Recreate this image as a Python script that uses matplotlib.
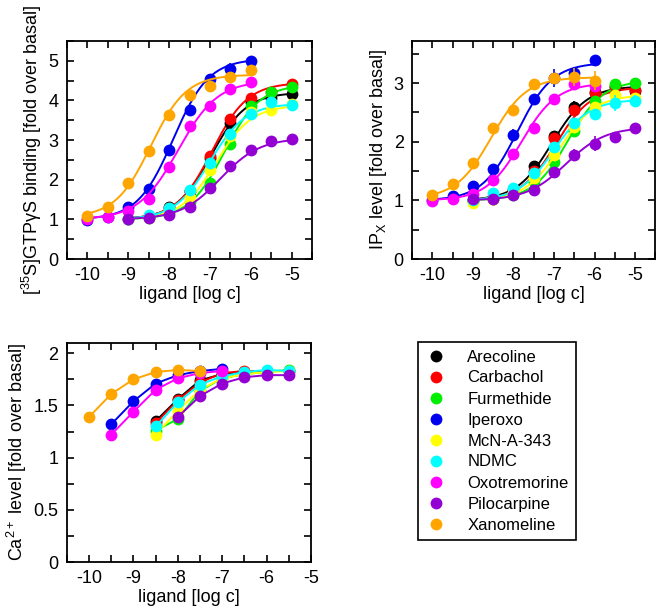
import numpy as np
import matplotlib.pyplot as plt
from matplotlib.ticker import MultipleLocator, FormatStrFormatter

plt.rcParams['font.family'] = ['Liberation Sans', 'DejaVu Sans']
plt.rcParams['axes.unicode_minus'] = False
plt.rcParams['mathtext.default'] = 'regular'

N = np.nan

names = ['Arecoline', 'Carbachol', 'Furmethide', 'Iperoxo', 'McN-A-343',
         'NDMC', 'Oxotremorine', 'Pilocarpine', 'Xanomeline']
colors = ['#000000', '#ff0000', '#00ee00', '#0000ee', '#ffff00',
          '#00ffff', '#ff00ff', '#9400d3', '#ffa500']

log_c = [-10, -9.5, -9, -8.5, -8, -7.5, -7, -6.5, -6, -5.5, -5]

# [35S]GTPgS binding, fold over basal
gtp = {
    'Arecoline':    [N, N, 1.00, 1.05, 1.32, 1.72, 2.55, 3.42, 3.96, 4.05, 4.17],
    'Carbachol':    [N, N, 1.00, 1.05, 1.30, 1.72, 2.60, 3.52, 4.06, 4.22, 4.42],
    'Furmethide':   [N, N, 1.00, 1.03, 1.15, 1.45, 1.91, 2.90, 3.85, 4.21, 4.34],
    'Iperoxo':      [0.99, 1.05, 1.32, 1.76, 2.75, 3.75, 4.55, 4.80, 5.00, N, N],
    'McN-A-343':    [N, N, 1.00, 1.05, 1.22, 1.55, 2.24, 3.10, 3.70, 3.77, 3.90],
    'NDMC':         [N, N, 1.00, 1.12, 1.28, 1.74, 2.43, 3.15, 3.67, 3.96, 3.89],
    'Oxotremorine': [1.00, 1.07, 1.20, 1.51, 2.33, 3.35, 3.86, 4.29, 4.47, N, N],
    'Pilocarpine':  [N, N, 1.00, 1.03, 1.12, 1.31, 1.79, 2.35, 2.75, 2.97, 3.02],
    'Xanomeline':   [1.09, 1.31, 1.93, 2.72, 3.63, 4.14, 4.36, 4.60, 4.77, N, N],
}
gtp_err = {
    'Carbachol':    [0, 0, 0, 0, 0, 0, 0.05, 0.06, 0.08, 0.05, 0.04],
    'Iperoxo':      [0, 0, 0, 0, 0.06, 0.10, 0.06, 0.15, 0.08, 0, 0],
    'Oxotremorine': [0, 0, 0, 0, 0, 0, 0, 0.10, 0.08, 0, 0],
    'Xanomeline':   [0, 0, 0, 0, 0, 0.08, 0, 0.08, 0.04, 0, 0],
}
# fitted curves: bottom, top, logEC50, hill
gtp_bottom = [1.0, 1.0, 1.0, 1.0, 1.0, 1.0, 1.0, 1.0, 1.05]
gtp_top = [4.20, 4.45, 4.40, 5.05, 3.88, 3.92, 4.50, 3.05, 4.65]
gtp_ec50 = [-6.98, -6.95, -6.65, -7.90, -6.85, -7.00, -7.78, -6.75, -8.45]
gtp_hill = [1.0, 1.0, 1.0, 1.0, 1.0, 1.0, 0.9, 0.9, 1.0]

# IPx accumulation, fold over basal
ipx = {
    'Arecoline':    [N, N, 1.00, 1.05, 1.17, 1.58, 2.10, 2.60, 2.85, 2.93, 2.86],
    'Carbachol':    [N, N, 1.00, 1.03, 1.14, 1.50, 2.07, 2.55, 2.83, 2.95, 2.88],
    'Furmethide':   [N, N, 0.99, 1.02, 1.10, 1.32, 1.66, 2.18, 2.70, 2.98, 3.00],
    'Iperoxo':      [1.01, 1.07, 1.24, 1.53, 2.11, 2.73, 3.09, 3.17, 3.39, N, N],
    'McN-A-343':    [N, N, 0.96, 1.02, 1.12, 1.38, 1.78, 2.25, 2.60, 2.80, 2.75],
    'NDMC':         [N, N, 1.00, 1.13, 1.21, 1.47, 1.91, 2.32, 2.47, 2.66, 2.70],
    'Oxotremorine': [0.99, 1.02, 1.11, 1.35, 1.79, 2.24, 2.73, 2.99, 2.95, N, N],
    'Pilocarpine':  [N, N, 1.02, 1.02, 1.09, 1.18, 1.48, 1.78, 1.97, 2.09, 2.23],
    'Xanomeline':   [1.10, 1.28, 1.63, 2.24, 2.55, 2.99, 3.09, 3.11, 3.04, N, N],
}
ipx_err = {
    'Arecoline':    [0, 0, 0, 0, 0, 0.05, 0.07, 0.10, 0.05, 0.04, 0.04],
    'Carbachol':    [0, 0, 0, 0, 0, 0, 0, 0, 0, 0.05, 0.04],
    'Iperoxo':      [0, 0, 0, 0, 0.10, 0.07, 0.15, 0.10, 0.07, 0, 0],
    'NDMC':         [0, 0, 0, 0, 0, 0, 0, 0, 0.05, 0.13, 0.10],
    'Oxotremorine': [0, 0, 0, 0, 0, 0, 0, 0.07, 0.10, 0, 0],
    'Pilocarpine':  [0, 0, 0, 0, 0, 0, 0, 0.10, 0.13, 0.07, 0.03],
    'Xanomeline':   [0, 0, 0, 0, 0, 0.08, 0.08, 0.15, 0.16, 0, 0],
}
ipx_bottom = [1.0, 1.0, 1.0, 1.0, 1.0, 1.0, 1.0, 1.0, 1.03]
ipx_top = [2.95, 2.93, 3.05, 3.35, 2.80, 2.72, 3.00, 2.25, 3.10]
ipx_ec50 = [-7.05, -6.95, -6.65, -7.90, -6.85, -7.00, -7.80, -6.70, -8.55]
ipx_hill = [1.0, 1.0, 1.0, 1.0, 1.0, 1.0, 1.0, 0.9, 1.0]

# Ca2+ level, fold over basal
ca = {
    'Arecoline':    [N, N, N, 1.35, 1.56, 1.74, 1.80, 1.82, 1.83, 1.83, N],
    'Carbachol':    [N, N, N, 1.33, 1.55, 1.72, 1.81, 1.83, 1.83, 1.83, N],
    'Furmethide':   [N, N, N, 1.26, 1.37, 1.64, 1.76, 1.80, 1.82, 1.84, N],
    'Iperoxo':      [N, 1.32, 1.54, 1.71, 1.79, 1.83, 1.85, N, N, N, N],
    'McN-A-343':    [N, N, N, 1.22, 1.45, 1.65, 1.76, 1.80, 1.82, 1.83, N],
    'NDMC':         [N, N, N, 1.30, 1.53, 1.70, 1.78, 1.82, 1.84, 1.83, N],
    'Oxotremorine': [N, 1.22, 1.44, 1.65, 1.76, 1.81, 1.83, N, N, N, N],
    'Pilocarpine':  [N, N, N, N, 1.39, 1.59, 1.71, 1.77, 1.79, 1.79, N],
    'Xanomeline':   [1.39, 1.61, 1.75, 1.82, 1.84, 1.83, N, N, N, N, N],
}

x = np.array(log_c)
MS = 8.5


def logistic(xx, bottom, top, ec50, hill):
    return bottom + (top - bottom) / (1 + 10 ** ((ec50 - xx) * hill))


def style_axes(ax, ylim, ymajor, yminor, xlim, ylabel):
    ax.set_xlim(*xlim)
    ax.set_ylim(*ylim)
    ax.xaxis.set_major_locator(MultipleLocator(1))
    ax.xaxis.set_minor_locator(MultipleLocator(0.5))
    ax.yaxis.set_major_locator(MultipleLocator(ymajor))
    ax.yaxis.set_minor_locator(MultipleLocator(yminor))
    ax.xaxis.set_major_formatter(FormatStrFormatter('%g'))
    ax.yaxis.set_major_formatter(FormatStrFormatter('%g'))
    ax.tick_params(which='both', direction='in', top=True, right=True,
                   length=5, width=1.2, labelsize=13, pad=6)
    for s in ax.spines.values():
        s.set_linewidth(1.3)
    ax.set_xlabel('ligand [log c]', fontsize=13, labelpad=1)
    ax.set_ylabel(ylabel, fontsize=13, labelpad=3)


def fitted_panel(ax, data, err, bottom, top, ec50, hill):
    for i, name in enumerate(names):
        y = np.array(data[name], dtype=float)
        ok = ~np.isnan(y)
        xs = np.linspace(x[ok].min(), x[ok].max(), 200)
        ax.plot(xs, logistic(xs, bottom[i], top[i], ec50[i], hill[i]),
                color=colors[i], lw=1.4, zorder=2 + i)
        e = np.array(err.get(name, [0] * len(x)), dtype=float)
        ax.errorbar(x[ok], y[ok], yerr=e[ok], fmt='o', color=colors[i],
                    ms=MS, mew=0, capsize=3.5, elinewidth=1.2, capthick=1.2,
                    zorder=3 + i)


fig = plt.figure(figsize=(6.56, 6.11), dpi=100)

ax1 = fig.add_axes([0.102, 0.576, 0.374, 0.357])
fitted_panel(ax1, gtp, gtp_err, gtp_bottom, gtp_top, gtp_ec50, gtp_hill)
style_axes(ax1, (0, 5.5), 1, 0.5, (-10.5, -4.5),
           '[$^{35}$S]GTPγS binding [fold over basal]')

ax2 = fig.add_axes([0.628, 0.576, 0.371, 0.357])
fitted_panel(ax2, ipx, ipx_err, ipx_bottom, ipx_top, ipx_ec50, ipx_hill)
style_axes(ax2, (0, 3.72), 1, 0.5, (-10.5, -4.5),
           'IP$_X$ level [fold over basal]')

ax3 = fig.add_axes([0.102, 0.080, 0.372, 0.359])
for i, name in enumerate(names):
    y = np.array(ca[name], dtype=float)
    ok = ~np.isnan(y)
    ax3.plot(x[ok], y[ok], '-o', color=colors[i], lw=1.4, ms=MS, mew=0,
             label=name, zorder=2 + i)
style_axes(ax3, (0, 2.1), 0.5, 0.25, (-10.5, -5),
           'Ca$^{2+}$ level [fold over basal]')

handles = [plt.Line2D([], [], ls='none', marker='o', ms=MS, mew=0,
                      color=c) for c in colors]
leg = fig.legend(handles, names, loc='upper left',
                 bbox_to_anchor=(418 / 656, 1 - 342 / 611),
                 borderaxespad=0, fontsize=12, frameon=True, fancybox=False,
                 edgecolor='black', framealpha=1, handlelength=1.3,
                 handletextpad=1.2, borderpad=0.45, labelspacing=0.36)
leg.get_frame().set_linewidth(1.2)

fig.savefig('out.png', dpi=100)
